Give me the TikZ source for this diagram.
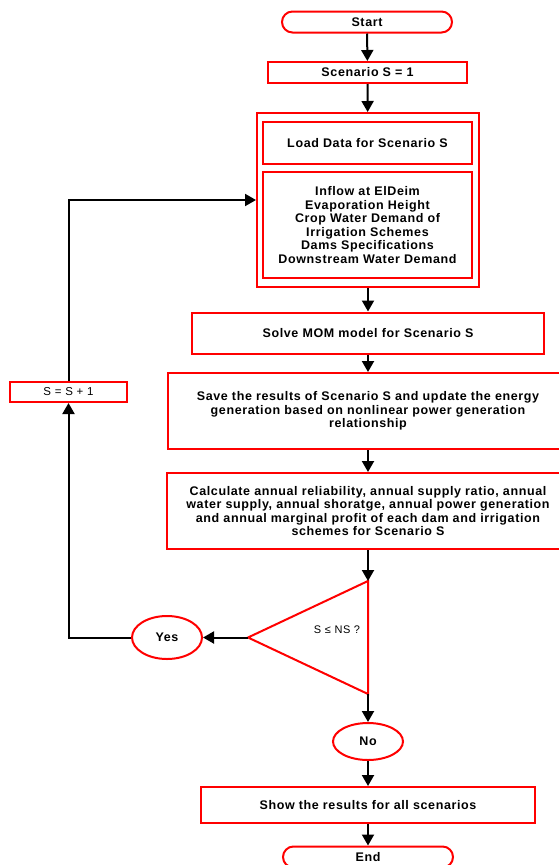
\documentclass[tikz,border=0pt]{standalone}
\usepackage{fontspec}
\setmainfont{Liberation Sans}[LetterSpace=5]
\usepackage{tikz}
\usetikzlibrary{shapes,arrows}
\usetikzlibrary{positioning}
\usetikzlibrary{arrows.meta}

\definecolor{boxred}{RGB}{255,0,0}
\tikzset{
	box/.style={draw=boxred, line width=2pt, fill=white, align=center, inner sep=2pt,
		font=\fontsize{12.5}{13.5}\selectfont\bfseries},
	term/.style={box, rounded corners=10.5pt},
	oval/.style={box, ellipse, inner sep=0pt},
	flow/.style={draw=black, line width=2pt, -{Triangle[width=12pt,length=11pt]}},
	link/.style={draw=black, line width=2pt}
}

\begin{document}
\begin{tikzpicture}[x=1pt,y=-1pt]
	\useasboundingbox (0,0) rectangle (558,865);
	\node [term, minimum width=170pt, minimum height=21pt] (start) at (367,22) {Start};
	\node [box, minimum width=199pt, minimum height=21pt] (scen) at (367.5,72.5) {Scenario S = 1};
	\node [box, minimum width=222pt, minimum height=174pt] (outer) at (368,200) {};
	\node [box, minimum width=209pt, minimum height=42pt] (load) at (367.5,143) {Load Data for Scenario S};
	\node [box, minimum width=209pt, minimum height=106pt] (inflow) at (367.5,225) {Inflow at ElDeim\\Evaporation Height\\Crop Water Demand of\\Irrigation Schemes\\Dams Specifications\\Downstream Water Demand};
	\node [box, minimum width=352pt, minimum height=41pt] (solve) at (368,333) {Solve MOM model for Scenario S};
	\node [box, minimum width=400pt, minimum height=76pt] (save) at (368,411) {Save the results of Scenario S and update the energy\\generation based on nonlinear power generation\\relationship};
	\node [box, minimum width=402pt, minimum height=76pt] (calc) at (368,511) {Calculate annual reliability, annual supply ratio, annual\\water supply, annual shoratge, annual power generation\\and annual marginal profit of each dam and irrigation\\schemes for Scenario S};
	% decision
	\coordinate (dtop) at (368,581);
	\coordinate (dapex) at (248,637.5);
	\coordinate (dbot) at (368,694);
	\draw [draw=boxred, line width=2pt] (dtop) -- (dapex) -- (dbot) -- cycle;
	\node [font=\fontsize{11}{12}\selectfont] (cond) at (337,630) {S ≤ NS ?};
	\node [oval, minimum width=70pt, minimum height=43pt] (yes) at (167,637.5) {Yes};
	\node [box, font=\fontsize{11.5}{12}\selectfont, minimum width=117pt, minimum height=20pt] (upd) at (68.5,392) {S = S + 1};
	\node [oval, minimum width=70pt, minimum height=37pt] (no) at (368,741.5) {No};
	\node [box, minimum width=334pt, minimum height=36pt] (show) at (368,805) {Show the results for all scenarios};
	\node [term, minimum width=170pt, minimum height=21pt] (end) at (368,857) {End};

	\draw [flow] (start) -- (scen);
	\draw [flow] (scen) -- (outer);
	\draw [flow] (outer) -- (solve);
	\draw [flow] (solve) -- (save);
	\draw [flow] (save) -- (calc);
	\draw [flow] (calc.south -| dtop) -- (dtop);
	\draw [flow] (dapex) -- (yes);
	\draw [flow] (yes.west) -| (upd.south);
	\draw [flow] (upd.north) |- (outer.west);
	\draw [flow] (dbot) -- (no);
	\draw [flow] (no) -- (show);
	\draw [flow] (show) -- (end);
\end{tikzpicture}
\end{document}
